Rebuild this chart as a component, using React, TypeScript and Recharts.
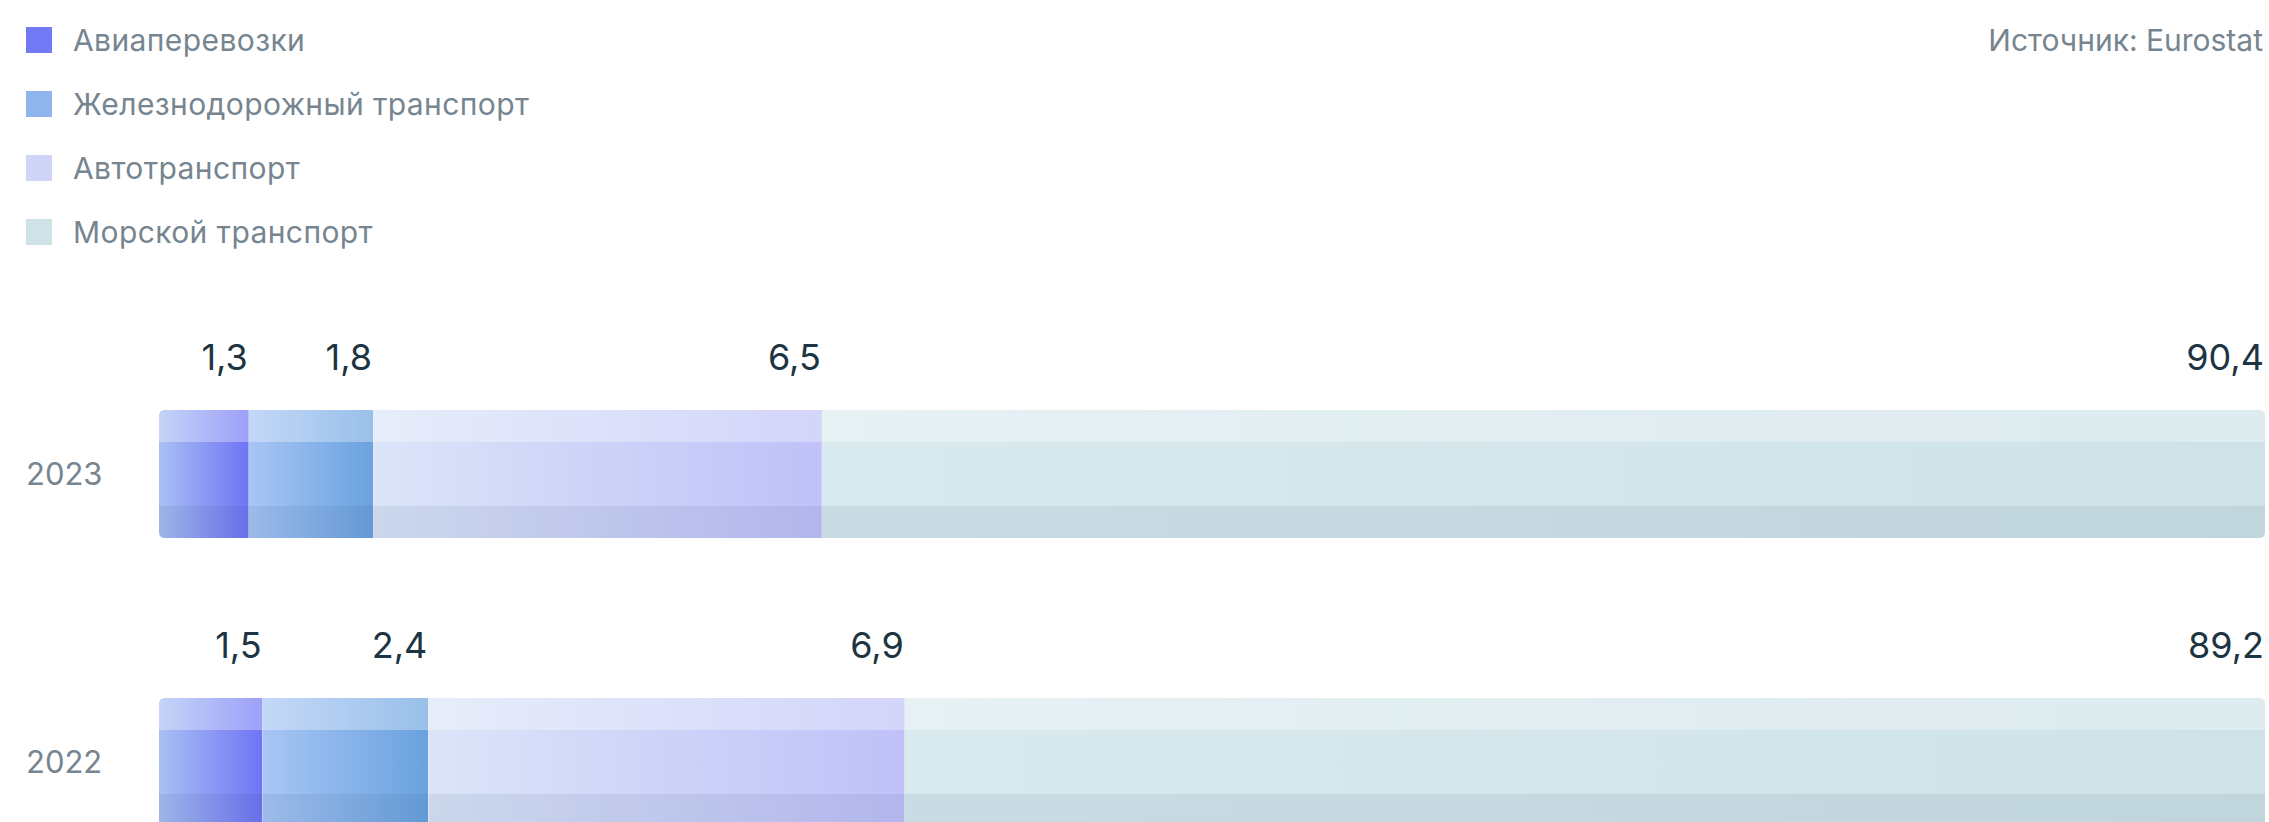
import { Bar, BarChart, LabelList, XAxis, YAxis } from 'recharts'

const YEARS = ['2023', '2022']
const AIR = [1.3, 1.5]
const RAIL = [1.8, 2.4]
const ROAD = [6.5, 6.9]
const SEA = [90.4, 89.2]

const SERIES_KEYS = ['air', 'rail', 'road', 'sea']
const SERIES_NAMES = ['Авиаперевозки', 'Железнодорожный транспорт', 'Автотранспорт', 'Морской транспорт']
const SOURCE = 'Источник: Eurostat'

// swatch colour, gradient left, gradient right
const STYLES = [
  { swatch: '#7479f6', from: '#a9c0f3', to: '#6f74f5' },
  { swatch: '#8fb5ec', from: '#a8c6f5', to: '#6aa2df' },
  { swatch: '#d0d5f8', from: '#dbe5f8', to: '#bfc1f8' },
  { swatch: '#cfe3e7', from: '#d9eaee', to: '#cee2e7' },
]

const data = YEARS.map((year, i) => ({
  year,
  air: AIR[i],
  rail: RAIL[i],
  road: ROAD[i],
  sea: SEA[i],
}))

const W = 2269
const H = 906
const MARGIN = { top: 330, right: 4, bottom: 0, left: 0 }
const PLOT_RIGHT = W - MARGIN.right
const GRAY = '#76858f'
const DARK = '#1d3443'
const FONT = 'Inter, "Open Sans", sans-serif'

function segPath(x: number, y: number, w: number, h: number, rl: number, rr: number) {
  return `M${x + rl},${y} H${x + w - rr} Q${x + w},${y} ${x + w},${y + rr} V${y + h - rr} Q${x + w},${y + h} ${x + w - rr},${y + h} H${x + rl} Q${x},${y + h} ${x},${y + h - rl} V${y + rl} Q${x},${y} ${x + rl},${y} Z`
}

function makeShape(si: number) {
  return (props: any) => {
    const { x, y, height, index } = props
    const right = props.background ? props.background.x + props.background.width : PLOT_RIGHT
    const w = Math.min(x + props.width, right) - x
    if (!(w > 0)) return <g />
    const st = STYLES[si]
    const id = `seg-${si}-${index}`
    const rl = si === 0 ? 6 : 0
    const rr = si === SERIES_KEYS.length - 1 ? 6 : 0
    const band = height / 4
    return (
      <g>
        <defs>
          <linearGradient id={`${id}-g`} x1="0" y1="0" x2="1" y2="0">
            <stop offset="0%" stopColor={st.from} />
            <stop offset="100%" stopColor={st.to} />
          </linearGradient>
          <clipPath id={`${id}-c`}>
            <path d={segPath(x, y, w, height, rl, rr)} />
          </clipPath>
        </defs>
        <g clipPath={`url(#${id}-c)`}>
          <rect x={x} y={y} width={w} height={height} fill={`url(#${id}-g)`} />
          <rect x={x} y={y} width={w} height={band} fill="#ffffff" fillOpacity={0.32} />
          <rect x={x} y={y + height - band} width={w} height={band} fill="#14285a" fillOpacity={0.07} />
        </g>
      </g>
    )
  }
}

function ValueLabel(props: any) {
  const { x, y, width, value } = props
  const right = Math.min(x + width, PLOT_RIGHT) - 1
  return (
    <text x={right} y={y - 40} textAnchor="end" fill={DARK} fontSize={36} fontFamily={FONT}>
      {String(value).replace('.', ',')}
    </text>
  )
}

function YearTick(props: any) {
  const { y, payload } = props
  return (
    <text x={26} y={y} dy={11} textAnchor="start" fill={GRAY} fontSize={31} fontFamily={FONT}>
      {payload.value}
    </text>
  )
}

export default function App() {
  return (
    <div
      style={{
        position: 'absolute',
        left: 0,
        top: 0,
        width: W,
        height: 822,
        overflow: 'hidden',
        background: '#fff',
        fontFamily: FONT,
      }}
    >
      {SERIES_NAMES.map((name, i) => (
        <div
          key={name}
          style={{
            position: 'absolute',
            left: 26,
            top: 27 + i * 64,
            height: 26,
            display: 'flex',
            alignItems: 'center',
            whiteSpace: 'nowrap',
          }}
        >
          <span style={{ width: 26, height: 26, background: STYLES[i].swatch, display: 'inline-block' }} />
          <span style={{ marginLeft: 21, fontSize: 30, color: GRAY, lineHeight: 1, letterSpacing: 0.4 }}>
            {name}
          </span>
        </div>
      ))}
      <div
        style={{
          position: 'absolute',
          right: 6,
          top: 27,
          height: 26,
          display: 'flex',
          alignItems: 'center',
          fontSize: 30,
          color: GRAY,
          lineHeight: 1,
          whiteSpace: 'nowrap',
        }}
      >
        {SOURCE}
      </div>
      <div style={{ position: 'absolute', left: 0, top: 0 }}>
        <BarChart width={W} height={H} data={data} layout="vertical" margin={MARGIN} barSize={128}>
          <XAxis type="number" hide domain={[0, 30.5]} allowDataOverflow />
          <YAxis
            type="category"
            dataKey="year"
            width={159}
            axisLine={false}
            tickLine={false}
            tick={<YearTick />}
          />
          {SERIES_KEYS.map((key, si) => (
            <Bar
              key={key}
              dataKey={key}
              name={SERIES_NAMES[si]}
              stackId="a"
              isAnimationActive={false}
              shape={makeShape(si)}
            >
              <LabelList dataKey={key} content={<ValueLabel />} />
            </Bar>
          ))}
        </BarChart>
      </div>
    </div>
  )
}
